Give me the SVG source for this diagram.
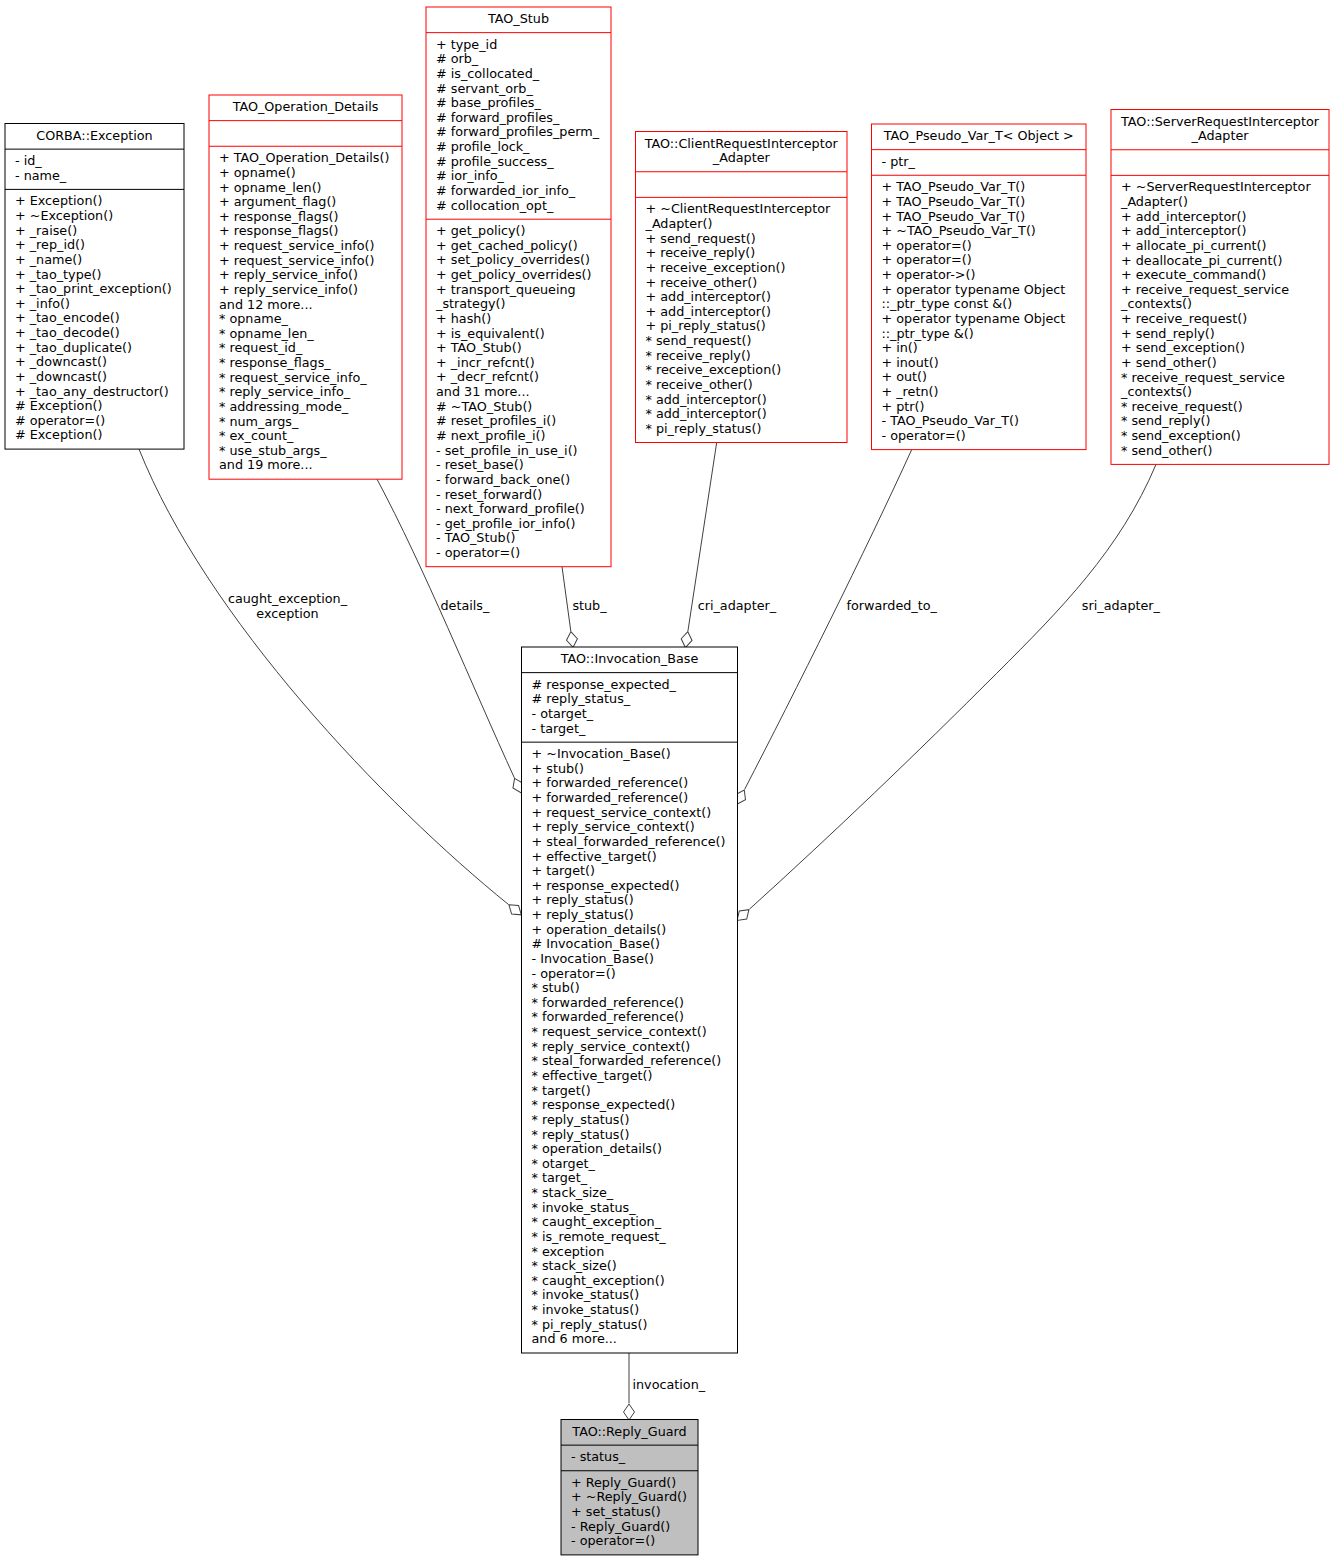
<svg xmlns="http://www.w3.org/2000/svg" width="1335" height="1560" viewBox="0 0 1335 1560">
<style>
text{font-family:"DejaVu Sans","Liberation Sans",sans-serif;font-size:12.75px;fill:#000}
.c{text-anchor:middle}
.box{fill:#fff;stroke:#000;stroke-width:1}
.red{fill:#fff;stroke:#ff0000;stroke-width:1}
.gray{fill:#bfbfbf;stroke:#000;stroke-width:1}
.sep{stroke:#000;stroke-width:1}
.sepr{stroke:#ff0000;stroke-width:1}
.e{fill:none;stroke:#404040;stroke-width:1}
</style>
<defs>
<marker id="od" markerUnits="userSpaceOnUse" markerWidth="20" markerHeight="14" refX="0" refY="7" viewBox="0 0 20 14" orient="auto">
<path d="M0.5,7 L8.5,1.5 L16.5,7 L8.5,12.5 Z" fill="#fff" stroke="#404040" stroke-width="1"/>
</marker>
</defs>
<rect width="1335" height="1560" fill="#fff"/>

<g id="edges">
<path class="e" marker-end="url(#od)" d="M139,449.1 C205.8,617 383.7,803.7 508.5,904.5"/>
<path class="e" marker-end="url(#od)" d="M377,479.2 C424,567 472.6,687 514.4,777.9"/>
<path class="e" marker-end="url(#od)" d="M562,566.7 L570.8,631.1"/>
<path class="e" marker-end="url(#od)" d="M716.7,442.5 L687.9,631.2"/>
<path class="e" marker-end="url(#od)" d="M911.7,449.6 C866,550 795,692 744.5,789.6"/>
<path class="e" marker-end="url(#od)" d="M1156,464.4 C1120,550 1060,610 996.7,673.3 C916,754 833.7,832.9 749.3,909.3"/>
<path class="e" marker-end="url(#od)" d="M629,1353 L629,1403.5"/>
<text class="c" x="287.5" y="603.3">caught_exception_</text>
<text class="c" x="287.5" y="617.9">exception</text>
<text class="c" x="464.9" y="610">details_</text>
<text class="c" x="589.5" y="610">stub_</text>
<text class="c" x="736.9" y="610">cri_adapter_</text>
<text class="c" x="891.7" y="610">forwarded_to_</text>
<text class="c" x="1120.9" y="610">sri_adapter_</text>
<text class="c" x="668.8" y="1389.3">invocation_</text>
</g>

<g id="node-corba-exception">
<rect class="box" x="5" y="123.5" width="179" height="325.6"/>
<line class="sep" x1="5" y1="149.13" x2="184" y2="149.13"/>
<line class="sep" x1="5" y1="189.39" x2="184" y2="189.39"/>
<text class="c" x="94.5" y="139.5">CORBA::Exception</text>
<text x="15" y="165.13"><tspan x="15">- id_</tspan><tspan x="15" dy="14.63">- name_</tspan></text>
<text x="15" y="205.39"><tspan x="15">+ Exception()</tspan><tspan x="15" dy="14.63">+ ~Exception()</tspan><tspan x="15" dy="14.63">+ _raise()</tspan><tspan x="15" dy="14.63">+ _rep_id()</tspan><tspan x="15" dy="14.63">+ _name()</tspan><tspan x="15" dy="14.63">+ _tao_type()</tspan><tspan x="15" dy="14.63">+ _tao_print_exception()</tspan><tspan x="15" dy="14.63">+ _info()</tspan><tspan x="15" dy="14.63">+ _tao_encode()</tspan><tspan x="15" dy="14.63">+ _tao_decode()</tspan><tspan x="15" dy="14.63">+ _tao_duplicate()</tspan><tspan x="15" dy="14.63">+ _downcast()</tspan><tspan x="15" dy="14.63">+ _downcast()</tspan><tspan x="15" dy="14.63">+ _tao_any_destructor()</tspan><tspan x="15" dy="14.63"># Exception()</tspan><tspan x="15" dy="14.63"># operator=()</tspan><tspan x="15" dy="14.63"># Exception()</tspan></text>
</g>

<g id="node-tao-operation-details">
<rect class="red" x="209" y="95" width="193" height="384.2"/>
<line class="sepr" x1="209" y1="120.63" x2="402" y2="120.63"/>
<line class="sepr" x1="209" y1="146.26" x2="402" y2="146.26"/>
<text class="c" x="305.5" y="111">TAO_Operation_Details</text>
<text x="219" y="162.26"><tspan x="219">+ TAO_Operation_Details()</tspan><tspan x="219" dy="14.63">+ opname()</tspan><tspan x="219" dy="14.63">+ opname_len()</tspan><tspan x="219" dy="14.63">+ argument_flag()</tspan><tspan x="219" dy="14.63">+ response_flags()</tspan><tspan x="219" dy="14.63">+ response_flags()</tspan><tspan x="219" dy="14.63">+ request_service_info()</tspan><tspan x="219" dy="14.63">+ request_service_info()</tspan><tspan x="219" dy="14.63">+ reply_service_info()</tspan><tspan x="219" dy="14.63">+ reply_service_info()</tspan><tspan x="219" dy="14.63">and 12 more...</tspan><tspan x="219" dy="14.63">* opname_</tspan><tspan x="219" dy="14.63">* opname_len_</tspan><tspan x="219" dy="14.63">* request_id_</tspan><tspan x="219" dy="14.63">* response_flags_</tspan><tspan x="219" dy="14.63">* request_service_info_</tspan><tspan x="219" dy="14.63">* reply_service_info_</tspan><tspan x="219" dy="14.63">* addressing_mode_</tspan><tspan x="219" dy="14.63">* num_args_</tspan><tspan x="219" dy="14.63">* ex_count_</tspan><tspan x="219" dy="14.63">* use_stub_args_</tspan><tspan x="219" dy="14.63">and 19 more...</tspan></text>
</g>

<g id="node-tao-stub">
<rect class="red" x="426" y="7" width="185" height="559.7"/>
<line class="sepr" x1="426" y1="32.63" x2="611" y2="32.63"/>
<line class="sepr" x1="426" y1="219.19" x2="611" y2="219.19"/>
<text class="c" x="518.5" y="23">TAO_Stub</text>
<text x="436" y="48.63"><tspan x="436">+ type_id</tspan><tspan x="436" dy="14.63"># orb_</tspan><tspan x="436" dy="14.63"># is_collocated_</tspan><tspan x="436" dy="14.63"># servant_orb_</tspan><tspan x="436" dy="14.63"># base_profiles_</tspan><tspan x="436" dy="14.63"># forward_profiles_</tspan><tspan x="436" dy="14.63"># forward_profiles_perm_</tspan><tspan x="436" dy="14.63"># profile_lock_</tspan><tspan x="436" dy="14.63"># profile_success_</tspan><tspan x="436" dy="14.63"># ior_info_</tspan><tspan x="436" dy="14.63"># forwarded_ior_info_</tspan><tspan x="436" dy="14.63"># collocation_opt_</tspan></text>
<text x="436" y="235.19"><tspan x="436">+ get_policy()</tspan><tspan x="436" dy="14.63">+ get_cached_policy()</tspan><tspan x="436" dy="14.63">+ set_policy_overrides()</tspan><tspan x="436" dy="14.63">+ get_policy_overrides()</tspan><tspan x="436" dy="14.63">+ transport_queueing</tspan><tspan x="436" dy="14.63">_strategy()</tspan><tspan x="436" dy="14.63">+ hash()</tspan><tspan x="436" dy="14.63">+ is_equivalent()</tspan><tspan x="436" dy="14.63">+ TAO_Stub()</tspan><tspan x="436" dy="14.63">+ _incr_refcnt()</tspan><tspan x="436" dy="14.63">+ _decr_refcnt()</tspan><tspan x="436" dy="14.63">and 31 more...</tspan><tspan x="436" dy="14.63"># ~TAO_Stub()</tspan><tspan x="436" dy="14.63"># reset_profiles_i()</tspan><tspan x="436" dy="14.63"># next_profile_i()</tspan><tspan x="436" dy="14.63">- set_profile_in_use_i()</tspan><tspan x="436" dy="14.63">- reset_base()</tspan><tspan x="436" dy="14.63">- forward_back_one()</tspan><tspan x="436" dy="14.63">- reset_forward()</tspan><tspan x="436" dy="14.63">- next_forward_profile()</tspan><tspan x="436" dy="14.63">- get_profile_ior_info()</tspan><tspan x="436" dy="14.63">- TAO_Stub()</tspan><tspan x="436" dy="14.63">- operator=()</tspan></text>
</g>

<g id="node-client-request-interceptor-adapter">
<rect class="red" x="635.5" y="131.5" width="211.5" height="311"/>
<line class="sepr" x1="635.5" y1="171.76" x2="847" y2="171.76"/>
<line class="sepr" x1="635.5" y1="197.39" x2="847" y2="197.39"/>
<text class="c" x="741.25" y="147.5"><tspan x="741.25">TAO::ClientRequestInterceptor</tspan><tspan x="741.25" dy="14.63">_Adapter</tspan></text>
<text x="645.5" y="213.39"><tspan x="645.5">+ ~ClientRequestInterceptor</tspan><tspan x="645.5" dy="14.63">_Adapter()</tspan><tspan x="645.5" dy="14.63">+ send_request()</tspan><tspan x="645.5" dy="14.63">+ receive_reply()</tspan><tspan x="645.5" dy="14.63">+ receive_exception()</tspan><tspan x="645.5" dy="14.63">+ receive_other()</tspan><tspan x="645.5" dy="14.63">+ add_interceptor()</tspan><tspan x="645.5" dy="14.63">+ add_interceptor()</tspan><tspan x="645.5" dy="14.63">+ pi_reply_status()</tspan><tspan x="645.5" dy="14.63">* send_request()</tspan><tspan x="645.5" dy="14.63">* receive_reply()</tspan><tspan x="645.5" dy="14.63">* receive_exception()</tspan><tspan x="645.5" dy="14.63">* receive_other()</tspan><tspan x="645.5" dy="14.63">* add_interceptor()</tspan><tspan x="645.5" dy="14.63">* add_interceptor()</tspan><tspan x="645.5" dy="14.63">* pi_reply_status()</tspan></text>
</g>

<g id="node-tao-pseudo-var-t">
<rect class="red" x="871.5" y="124" width="214.5" height="325.6"/>
<line class="sepr" x1="871.5" y1="149.63" x2="1086" y2="149.63"/>
<line class="sepr" x1="871.5" y1="175.26" x2="1086" y2="175.26"/>
<text class="c" x="978.75" y="140">TAO_Pseudo_Var_T&lt; Object &gt;</text>
<text x="881.5" y="165.63">- ptr_</text>
<text x="881.5" y="191.26"><tspan x="881.5">+ TAO_Pseudo_Var_T()</tspan><tspan x="881.5" dy="14.63">+ TAO_Pseudo_Var_T()</tspan><tspan x="881.5" dy="14.63">+ TAO_Pseudo_Var_T()</tspan><tspan x="881.5" dy="14.63">+ ~TAO_Pseudo_Var_T()</tspan><tspan x="881.5" dy="14.63">+ operator=()</tspan><tspan x="881.5" dy="14.63">+ operator=()</tspan><tspan x="881.5" dy="14.63">+ operator-&gt;()</tspan><tspan x="881.5" dy="14.63">+ operator typename Object</tspan><tspan x="881.5" dy="14.63">::_ptr_type const &amp;()</tspan><tspan x="881.5" dy="14.63">+ operator typename Object</tspan><tspan x="881.5" dy="14.63">::_ptr_type &amp;()</tspan><tspan x="881.5" dy="14.63">+ in()</tspan><tspan x="881.5" dy="14.63">+ inout()</tspan><tspan x="881.5" dy="14.63">+ out()</tspan><tspan x="881.5" dy="14.63">+ _retn()</tspan><tspan x="881.5" dy="14.63">+ ptr()</tspan><tspan x="881.5" dy="14.63">- TAO_Pseudo_Var_T()</tspan><tspan x="881.5" dy="14.63">- operator=()</tspan></text>
</g>

<g id="node-server-request-interceptor-adapter">
<rect class="red" x="1111" y="109.5" width="218" height="354.9"/>
<line class="sepr" x1="1111" y1="149.76" x2="1329" y2="149.76"/>
<line class="sepr" x1="1111" y1="175.39" x2="1329" y2="175.39"/>
<text class="c" x="1220" y="125.5"><tspan x="1220">TAO::ServerRequestInterceptor</tspan><tspan x="1220" dy="14.63">_Adapter</tspan></text>
<text x="1121" y="191.39"><tspan x="1121">+ ~ServerRequestInterceptor</tspan><tspan x="1121" dy="14.63">_Adapter()</tspan><tspan x="1121" dy="14.63">+ add_interceptor()</tspan><tspan x="1121" dy="14.63">+ add_interceptor()</tspan><tspan x="1121" dy="14.63">+ allocate_pi_current()</tspan><tspan x="1121" dy="14.63">+ deallocate_pi_current()</tspan><tspan x="1121" dy="14.63">+ execute_command()</tspan><tspan x="1121" dy="14.63">+ receive_request_service</tspan><tspan x="1121" dy="14.63">_contexts()</tspan><tspan x="1121" dy="14.63">+ receive_request()</tspan><tspan x="1121" dy="14.63">+ send_reply()</tspan><tspan x="1121" dy="14.63">+ send_exception()</tspan><tspan x="1121" dy="14.63">+ send_other()</tspan><tspan x="1121" dy="14.63">* receive_request_service</tspan><tspan x="1121" dy="14.63">_contexts()</tspan><tspan x="1121" dy="14.63">* receive_request()</tspan><tspan x="1121" dy="14.63">* send_reply()</tspan><tspan x="1121" dy="14.63">* send_exception()</tspan><tspan x="1121" dy="14.63">* send_other()</tspan></text>
</g>

<g id="node-invocation-base">
<rect class="box" x="521.5" y="647" width="216" height="706"/>
<line class="sep" x1="521.5" y1="672.63" x2="737.5" y2="672.63"/>
<line class="sep" x1="521.5" y1="742.15" x2="737.5" y2="742.15"/>
<text class="c" x="629.5" y="663">TAO::Invocation_Base</text>
<text x="531.5" y="688.63"><tspan x="531.5"># response_expected_</tspan><tspan x="531.5" dy="14.63"># reply_status_</tspan><tspan x="531.5" dy="14.63">- otarget_</tspan><tspan x="531.5" dy="14.63">- target_</tspan></text>
<text x="531.5" y="758.15"><tspan x="531.5">+ ~Invocation_Base()</tspan><tspan x="531.5" dy="14.63">+ stub()</tspan><tspan x="531.5" dy="14.63">+ forwarded_reference()</tspan><tspan x="531.5" dy="14.63">+ forwarded_reference()</tspan><tspan x="531.5" dy="14.63">+ request_service_context()</tspan><tspan x="531.5" dy="14.63">+ reply_service_context()</tspan><tspan x="531.5" dy="14.63">+ steal_forwarded_reference()</tspan><tspan x="531.5" dy="14.63">+ effective_target()</tspan><tspan x="531.5" dy="14.63">+ target()</tspan><tspan x="531.5" dy="14.63">+ response_expected()</tspan><tspan x="531.5" dy="14.63">+ reply_status()</tspan><tspan x="531.5" dy="14.63">+ reply_status()</tspan><tspan x="531.5" dy="14.63">+ operation_details()</tspan><tspan x="531.5" dy="14.63"># Invocation_Base()</tspan><tspan x="531.5" dy="14.63">- Invocation_Base()</tspan><tspan x="531.5" dy="14.63">- operator=()</tspan><tspan x="531.5" dy="14.63">* stub()</tspan><tspan x="531.5" dy="14.63">* forwarded_reference()</tspan><tspan x="531.5" dy="14.63">* forwarded_reference()</tspan><tspan x="531.5" dy="14.63">* request_service_context()</tspan><tspan x="531.5" dy="14.63">* reply_service_context()</tspan><tspan x="531.5" dy="14.63">* steal_forwarded_reference()</tspan><tspan x="531.5" dy="14.63">* effective_target()</tspan><tspan x="531.5" dy="14.63">* target()</tspan><tspan x="531.5" dy="14.63">* response_expected()</tspan><tspan x="531.5" dy="14.63">* reply_status()</tspan><tspan x="531.5" dy="14.63">* reply_status()</tspan><tspan x="531.5" dy="14.63">* operation_details()</tspan><tspan x="531.5" dy="14.63">* otarget_</tspan><tspan x="531.5" dy="14.63">* target_</tspan><tspan x="531.5" dy="14.63">* stack_size_</tspan><tspan x="531.5" dy="14.63">* invoke_status_</tspan><tspan x="531.5" dy="14.63">* caught_exception_</tspan><tspan x="531.5" dy="14.63">* is_remote_request_</tspan><tspan x="531.5" dy="14.63">* exception</tspan><tspan x="531.5" dy="14.63">* stack_size()</tspan><tspan x="531.5" dy="14.63">* caught_exception()</tspan><tspan x="531.5" dy="14.63">* invoke_status()</tspan><tspan x="531.5" dy="14.63">* invoke_status()</tspan><tspan x="531.5" dy="14.63">* pi_reply_status()</tspan><tspan x="531.5" dy="14.63">and 6 more...</tspan></text>
</g>

<g id="node-reply-guard">
<rect class="gray" x="561" y="1419.5" width="137" height="135.4"/>
<line class="sep" x1="561" y1="1445.13" x2="698" y2="1445.13"/>
<line class="sep" x1="561" y1="1470.76" x2="698" y2="1470.76"/>
<text class="c" x="629.5" y="1435.5">TAO::Reply_Guard</text>
<text x="571" y="1461.13">- status_</text>
<text x="571" y="1486.76"><tspan x="571">+ Reply_Guard()</tspan><tspan x="571" dy="14.63">+ ~Reply_Guard()</tspan><tspan x="571" dy="14.63">+ set_status()</tspan><tspan x="571" dy="14.63">- Reply_Guard()</tspan><tspan x="571" dy="14.63">- operator=()</tspan></text>
</g>
</svg>
